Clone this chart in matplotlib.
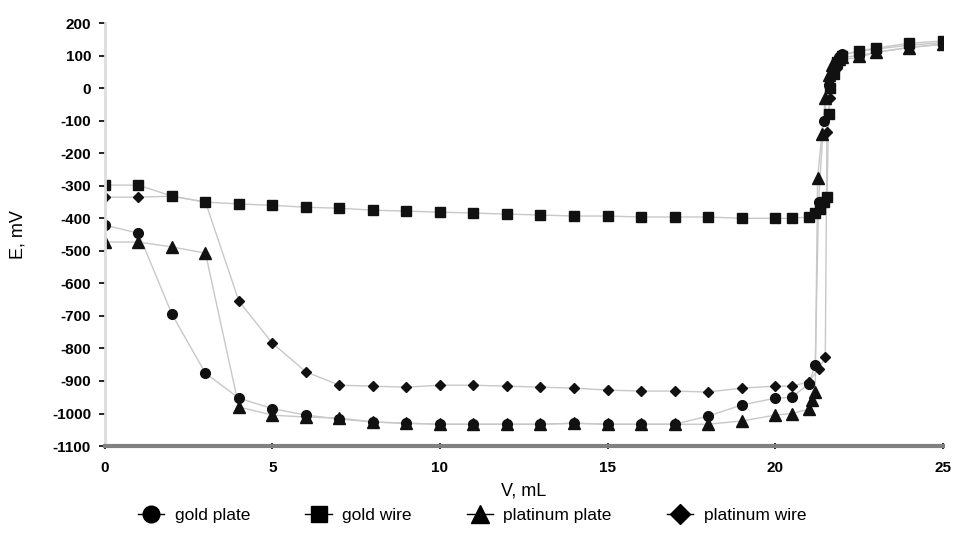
import matplotlib.pyplot as plt
from matplotlib.lines import Line2D

plt.rcParams['font.family'] = ['Liberation Sans', 'DejaVu Sans']
plt.rcParams['axes.unicode_minus'] = False

# gold plate (circles)
gp_x = [0, 1, 2, 3, 4, 5, 6, 7, 8, 9, 10, 11, 12, 13, 14, 15, 16, 17, 18, 19, 20, 20.5,
        21.0, 21.2, 21.3, 21.45, 21.6, 21.75, 21.9, 22, 22.5, 23, 24, 25]
gp_y = [-421, -446, -695, -876, -953, -985, -1005, -1017, -1026, -1030, -1033, -1033, -1033, -1033,
        -1030, -1033, -1033, -1033, -1008, -974, -953, -950,
        -910, -851, -350, -100, 10, 50, 95, 105, 112, 120, 132, 140]

# gold wire (squares)
gw_x = [0, 1, 2, 3, 4, 5, 6, 7, 8, 9, 10, 11, 12, 13, 14, 15, 16, 17, 18, 19, 20, 20.5,
        21.0, 21.2, 21.35, 21.45, 21.55, 21.6, 21.65, 21.75, 21.85, 22, 22.5, 23, 24, 25]
gw_y = [-298, -298, -332, -350, -356, -360, -366, -369, -375, -378, -381, -384, -387, -390,
        -393, -393, -396, -396, -396, -400, -400, -400,
        -396, -385, -370, -350, -335, -80, 0, 45, 80, 100, 115, 123, 138, 145]

# platinum plate (triangles)
pp_x = [0, 1, 2, 3, 4, 5, 6, 7, 8, 9, 10, 11, 12, 13, 14, 15, 16, 17, 18, 19, 20, 20.5,
        21.0, 21.1, 21.2, 21.27, 21.4, 21.5, 21.6, 21.7, 21.9, 22, 22.5, 23, 24, 25]
pp_y = [-473, -473, -488, -507, -980, -1005, -1011, -1014, -1026, -1030, -1033, -1033, -1033,
        -1033, -1030, -1033, -1033, -1033, -1033, -1023, -1005, -1000,
        -987, -959, -934, -277, -140, -30, 40, 70, 90, 95, 100, 110, 125, 135]

# platinum wire (diamonds)
pw_x = [0, 1, 2, 3, 4, 5, 6, 7, 8, 9, 10, 11, 12, 13, 14, 15, 16, 17, 18, 19, 20, 20.5,
        21.0, 21.3, 21.5, 21.55, 21.65, 21.75, 21.85, 22, 22.5, 23, 24, 25]
pw_y = [-335, -335, -332, -350, -655, -784, -872, -913, -916, -919, -913, -913, -916, -919,
        -922, -928, -931, -931, -934, -922, -916, -916,
        -903, -864, -827, -135, -31, 40, 61, 88, 95, 110, 125, 135]

series = [
    ("gold plate", gp_x, gp_y, 'o', 7),
    ("gold wire", gw_x, gw_y, 's', 7),
    ("platinum plate", pp_x, pp_y, '^', 8),
    ("platinum wire", pw_x, pw_y, 'D', 5.5),
]

fig = plt.figure(figsize=(9.54, 5.5), dpi=100)
ax = fig.add_axes([0.110, 0.189, 0.878, 0.769])

for name, x, y, m, ms in series:
    ax.plot(x, y, color='#c8c8c8', lw=1.0, zorder=1)
    ax.plot(x, y, linestyle='none', marker=m, markersize=ms, color='#111111', zorder=2)

ax.set_xlim(0, 25)
ax.set_ylim(-1100, 200)
ax.set_xticks(range(0, 26, 5))
ax.set_yticks(range(-1100, 201, 100))

for s in ['top', 'right']:
    ax.spines[s].set_visible(False)
ax.spines['bottom'].set_color('#808080')
ax.spines['bottom'].set_linewidth(3)
ax.spines['left'].set_color('#dddddd')
ax.spines['left'].set_linewidth(2)

ax.tick_params(axis='y', length=4, width=1.2, color='black', pad=6)
ax.tick_params(axis='x', length=4, width=1.2, color='black', direction='inout', pad=9)
for lab in ax.get_xticklabels() + ax.get_yticklabels():
    lab.set_fontweight('bold')
    lab.set_fontsize(11)

ax.set_xlabel('V, mL', fontsize=13, labelpad=5)
ax.set_ylabel('E, mV', fontsize=13, labelpad=18)

handles = [Line2D([0], [0], color='black', lw=1, marker=m, markersize=ms + 5,
                  markerfacecolor='black', markeredgecolor='black')
           for _, _, _, m, ms in series]
fig.legend(handles, [s[0] for s in series], loc='center', bbox_to_anchor=(0.495, 0.063),
           ncol=4, frameon=False, fontsize=12.5, handlelength=1.5, columnspacing=3.2,
           handletextpad=0.6)

fig.savefig('out.png', dpi=100)
